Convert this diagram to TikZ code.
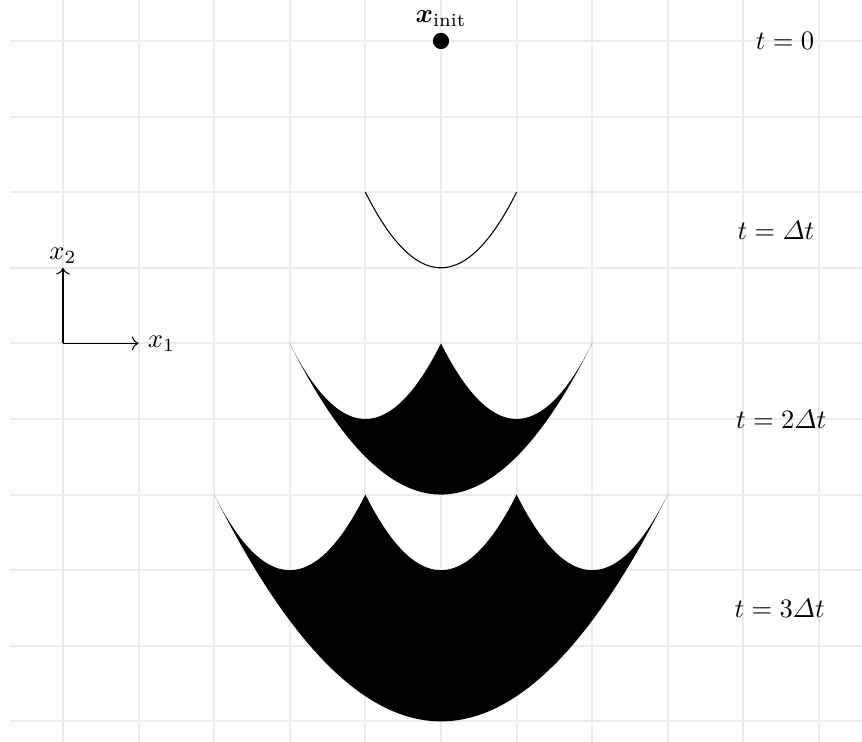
\documentclass[tikz,border=0pt]{standalone}
\usepackage{amsmath,amssymb}
\usepackage{bm}
\usepackage{tikz}
\usetikzlibrary{positioning,arrows.meta,calc}
\usepackage{xcolor}

\begin{document}
\begin{tikzpicture}
    % Fixed frame and clip
    \useasboundingbox (-5.833, -9.272) rectangle (5.569, 0.542);
    \clip (-5.833, -9.272) rectangle (5.569, 0.542);

    % Background grid
    \draw[color=gray!15, line width=0.8pt] (-5.7, -9.6) grid (5.9, 0.9);

    % Initial state
    \coordinate (Xinit) at (0, 0);
    \filldraw (Xinit) circle (0.1);
    \node[above=3pt, inner sep=2pt] (initlbl) at (Xinit) {$\bm{x}_{\text{init}}$};

    % Reachable set after one step
    \draw[thin, domain=-1:1, samples=60] plot (\x, {-3 + \x*\x});

    % Reachable set after two steps
    \fill[black] plot[domain=-2:2, samples=80] (\x, {-6 + \x*\x/2})
        -- plot[domain=2:0, samples=40] (\x, {-5 + (\x-1)*(\x-1)})
        -- plot[domain=0:-2, samples=40] (\x, {-5 + (\x+1)*(\x+1)}) -- cycle;

    % Reachable set after three steps
    \fill[black] plot[domain=-3:3, samples=100] (\x, {-9 + \x*\x/3})
        -- plot[domain=3:1, samples=40] (\x, {-7 + (\x-2)*(\x-2)})
        -- plot[domain=1:-1, samples=40] (\x, {-7 + \x*\x})
        -- plot[domain=-1:-3, samples=40] (\x, {-7 + (\x+2)*(\x+2)}) -- cycle;

    % Time labels
    \node (t0) at (4.55, 0) {$t = 0$};
    \node (t1) at (4.43, -2.5) {$t = \varDelta t$};
    \node (t2) at (4.5, -5) {$t = 2\varDelta t$};
    \node (t3) at (4.48, -7.5) {$t = 3\varDelta t$};

    % State axes
    \coordinate (axO) at (-5, -4);
    \coordinate (axX) at (-4, -4);
    \coordinate (axY) at (-5, -3);
    \draw[->] (axO) -- (axX) node[right] (x1lbl) {$x_1$};
    \draw[->] (axO) -- (axY) node[above, inner sep=1.5pt] (x2lbl) {$x_2$};
\end{tikzpicture}
\end{document}
